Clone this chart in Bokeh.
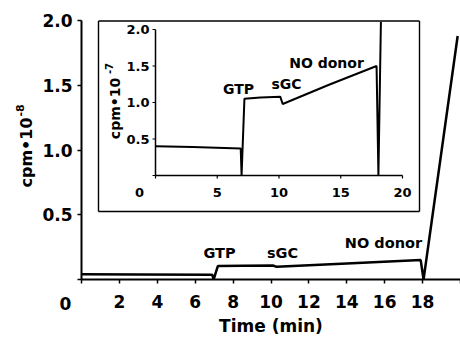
import math
from bokeh.plotting import figure
from bokeh.models import Range1d, FixedTicker, ColumnDataSource
from bokeh.core.properties import value
from bokeh.embed import file_html
from bokeh.resources import INLINE

# ---- data ----
time_min = [0.0, 3.0, 6.9, 6.97, 7.2, 8.5, 10.1, 10.3, 14.0, 17.9, 18.05, 19.85]
cpm_e7 = [0.40, 0.39, 0.37, 0.0, 1.05, 1.07, 1.08, 0.98, 1.24, 1.50, 0.0, 18.8]
cpm_e8 = [v / 10.0 for v in cpm_e7]

main_x_ticks = [0, 2, 4, 6, 8, 10, 12, 14, 16, 18, 20]
main_y_ticks = [0, 0.5, 1.0, 1.5, 2.0]
inset_x_ticks = [0, 5, 10, 15, 20]
inset_y_ticks = [0, 0.5, 1.0, 1.5, 2.0]
events = ["GTP", "sGC", "NO donor"]

# ---- layout constants (pixels) ----
W, H = 460, 339
AX0, AX20, AY0, AY2 = 81, 460, 279, 20      # main axes pixel positions
IX0, IX20, IY0, IY2 = 155, 402, 175, 29     # inset axes pixel positions
BOX_L, BOX_R, BOX_T, BOX_B = 98, 419, 20.5, 211

FNAME = "DejaVu Sans"
FONT = value(FNAME)

msx = (AX20 - AX0) / 20.0
msy = (AY0 - AY2) / 2.0
p = figure(width=W, height=H, output_backend="svg", toolbar_location=None,
           x_range=Range1d(-AX0 / msx, 20 + (W - AX20) / msx),
           y_range=Range1d(-(H - AY0) / msy, 2.0 + AY2 / msy),
           min_border=0, min_border_left=0, min_border_right=0,
           min_border_top=0, min_border_bottom=0)
p.outline_line_color = None
p.xgrid.visible = False
p.ygrid.visible = False
p.background_fill_color = "white"
p.border_fill_color = "white"

mx = lambda px: (px - AX0) / msx
my = lambda py: (AY0 - py) / msy

# inset ranges mapped across the whole canvas
sx = (IX20 - IX0) / 20.0
sy = (IY0 - IY2) / 2.0
p.extra_x_ranges = {"ix": Range1d(-IX0 / sx, 20 + (W - IX20) / sx)}
p.extra_y_ranges = {"iy": Range1d(-(H - IY0) / sy, 2.0 + IY2 / sy)}
ix = lambda px: (px - IX0) / sx
iy = lambda py: (IY0 - py) / sy

# inset series clipped at the top edge of the inset box
inset_top = iy(BOX_T + 1)
ins_t, ins_v = [time_min[0]], [cpm_e7[0]]
for i in range(1, len(time_min)):
    t0, v0, t1, v1 = time_min[i - 1], cpm_e7[i - 1], time_min[i], cpm_e7[i]
    if v1 <= inset_top:
        ins_t.append(t1)
        ins_v.append(v1)
    else:
        f = (inset_top - v0) / (v1 - v0)
        ins_t.append(t0 + f * (t1 - t0))
        ins_v.append(inset_top)
        break

# ---- main axes ----
for ax in (p.xaxis[0], p.yaxis[0]):
    ax.axis_line_width = 2
    ax.axis_line_color = "black"
    ax.major_tick_line_width = 1.5
    ax.major_tick_line_color = "black"
    ax.major_tick_in = 0
    ax.major_tick_out = 4
    ax.minor_tick_line_color = None
    ax.major_label_text_font = FNAME
    ax.major_label_text_font_style = "bold"
    ax.major_label_text_font_size = "17px"
    ax.major_label_text_color = "black"
    ax.fixed_location = 0

p.xaxis.bounds = (0, 20)
p.xaxis.ticker = FixedTicker(ticks=main_x_ticks)
p.xaxis.major_label_overrides = {0: "", 20: ""}
p.xaxis.major_label_standoff = 11
p.xaxis.axis_label = "Time (min)"
p.xaxis.axis_label_text_font = FNAME
p.xaxis.axis_label_text_font_style = "bold"
p.xaxis.axis_label_text_font_size = "17px"
p.xaxis.axis_label_text_color = "black"
p.xaxis.axis_label_standoff = 5

p.yaxis.bounds = (0, 2.0)
p.yaxis.ticker = FixedTicker(ticks=main_y_ticks)
p.yaxis.major_label_overrides = {t: ("" if t == 0 else "%.1f" % t) for t in main_y_ticks}
p.yaxis.major_label_standoff = 5

src = ColumnDataSource(dict(t=time_min, main=cpm_e8))
p.line("t", "main", source=src, line_color="black", line_width=2.5)

txt = dict(text_font=FONT, text_font_style="bold", text_color="black",
           text_align="center", text_baseline="middle")

# corner "0" and main y label
p.text(x=[mx(65)], y=[my(303)], text=["0"], text_font_size="17px", **txt)
p.text(x=[mx(26)], y=[my(152)], text=["cpm•10"], angle=math.pi / 2,
       text_font_size="16px", **txt)
p.text(x=[mx(19)], y=[my(110)], text=["-8"], angle=math.pi / 2,
       text_font_size="11px", **txt)

# main event annotations
p.text(x=[mx(219), mx(282), mx(383)], y=[my(252), my(252), my(242)], text=events,
       text_font_size="14.5px", **txt)

# ---- inset ----
IR = dict(x_range_name="ix", y_range_name="iy")
bl, br, bt, bb = ix(BOX_L), ix(BOX_R), iy(BOX_T), iy(BOX_B)
p.quad(left=[bl], right=[br], top=[bt], bottom=[bb],
       fill_color="white", line_color=None, **IR)
# box outline
p.segment(x0=[bl, br, br, bl], y0=[bt, bt, bb, bb], x1=[br, br, bl, bl], y1=[bt, bb, bb, bt],
          line_color="black", line_width=1.4, **IR)
p.segment(x0=[0, 0], y0=[0, 0], x1=[0, 20], y1=[2.0, 0], line_color="black",
          line_width=1.5, **IR)
tlx = 3 / sx
tly = 3 / sy
p.segment(x0=[0] * len(inset_y_ticks), y0=inset_y_ticks,
          x1=[-tlx] * len(inset_y_ticks), y1=inset_y_ticks,
          line_color="black", line_width=1.2, **IR)
p.segment(x0=inset_x_ticks, y0=[0] * len(inset_x_ticks),
          x1=inset_x_ticks, y1=[-tly] * len(inset_x_ticks),
          line_color="black", line_width=1.2, **IR)
ylab = ["%.1f" % v for v in inset_y_ticks[1:]]
txt_r = dict(txt, text_align="right")
p.text(x=[-6 / sx] * len(ylab), y=inset_y_ticks[1:], text=ylab,
       text_font_size="13px", **txt_r, **IR)
xlab = [str(v) for v in inset_x_ticks[1:]]
p.text(x=inset_x_ticks[1:], y=[iy(192)] * len(xlab), text=xlab,
       text_font_size="13px", **txt, **IR)
p.text(x=[ix(139)], y=[iy(192)], text=["0"], text_font_size="13px", **txt, **IR)
p.text(x=[ix(114)], y=[iy(108)], text=["cpm•10"], angle=math.pi / 2,
       text_font_size="14px", **txt, **IR)
p.text(x=[ix(108)], y=[iy(68)], text=["-7"], angle=math.pi / 2,
       text_font_size="10px", **txt, **IR)
p.text(x=[ix(238), ix(286), ix(326)], y=[iy(88), iy(83), iy(62)], text=events,
       text_font_size="14px", **txt, **IR)
p.line(ins_t, ins_v, line_color="black", line_width=2, **IR)

open("out.html", "w").write(file_html(p, INLINE))
